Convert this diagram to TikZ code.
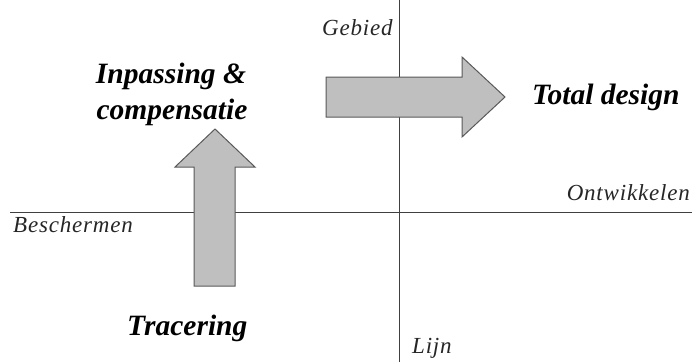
\documentclass[tikz,border=0pt]{standalone}
\usepackage{fontspec}
\setmainfont{Liberation Serif}
\newfontfamily\axisfont[LetterSpace=3.5]{Liberation Serif}

\begin{document}
\begin{tikzpicture}[x=1pt,y=-1pt,
  axis/.style={draw=black!75, line width=1pt},
  quadrant/.style={font=\axisfont\itshape\fontsize{23}{27}\selectfont, inner sep=0pt, text=black!85},
  strategy/.style={font=\bfseries\itshape\fontsize{29.5}{36}\selectfont, inner sep=0pt},
  move/.style={fill=black!25, draw=black!65, line width=1pt, line join=miter}]
\useasboundingbox (0,0) rectangle (692,362);

% axes
\coordinate (ntop) at (399,0);
\coordinate (nbot) at (399,362);
\coordinate (wend) at (10,212);
\coordinate (eend) at (692,212);
\draw[axis] (ntop) -- (nbot);
\draw[axis] (wend) -- (eend);

% block arrows
\draw[move] (194,286) -- (235,286) -- (235,167) -- (255,167) -- (215,129)
  -- (175,167) -- (194,167) -- cycle;
\draw[move] (326,77) -- (462,77) -- (462,57) -- (505,97) -- (462,137)
  -- (462,117) -- (326,117) -- cycle;

% axis labels
\node[quadrant, anchor=base west] (gebied) at (322,35) {Gebied};
\node[quadrant, anchor=base east] (ontw) at (690,200) {Ontwikkelen};
\node[quadrant, anchor=base west] (bescherm) at (13,232) {Beschermen};
\node[quadrant, anchor=base west] (lijn) at (412,353) {Lijn};

% strategies
\node[strategy, anchor=base] (inpass) at (171,83) {Inpassing \&};
\node[strategy, anchor=base] (comp) at (172,119) {compensatie};
\node[strategy, anchor=base west] (total) at (532,104) {Total design};
\node[strategy, anchor=base west] (trac) at (127,335) {Tracering};
\end{tikzpicture}
\end{document}
